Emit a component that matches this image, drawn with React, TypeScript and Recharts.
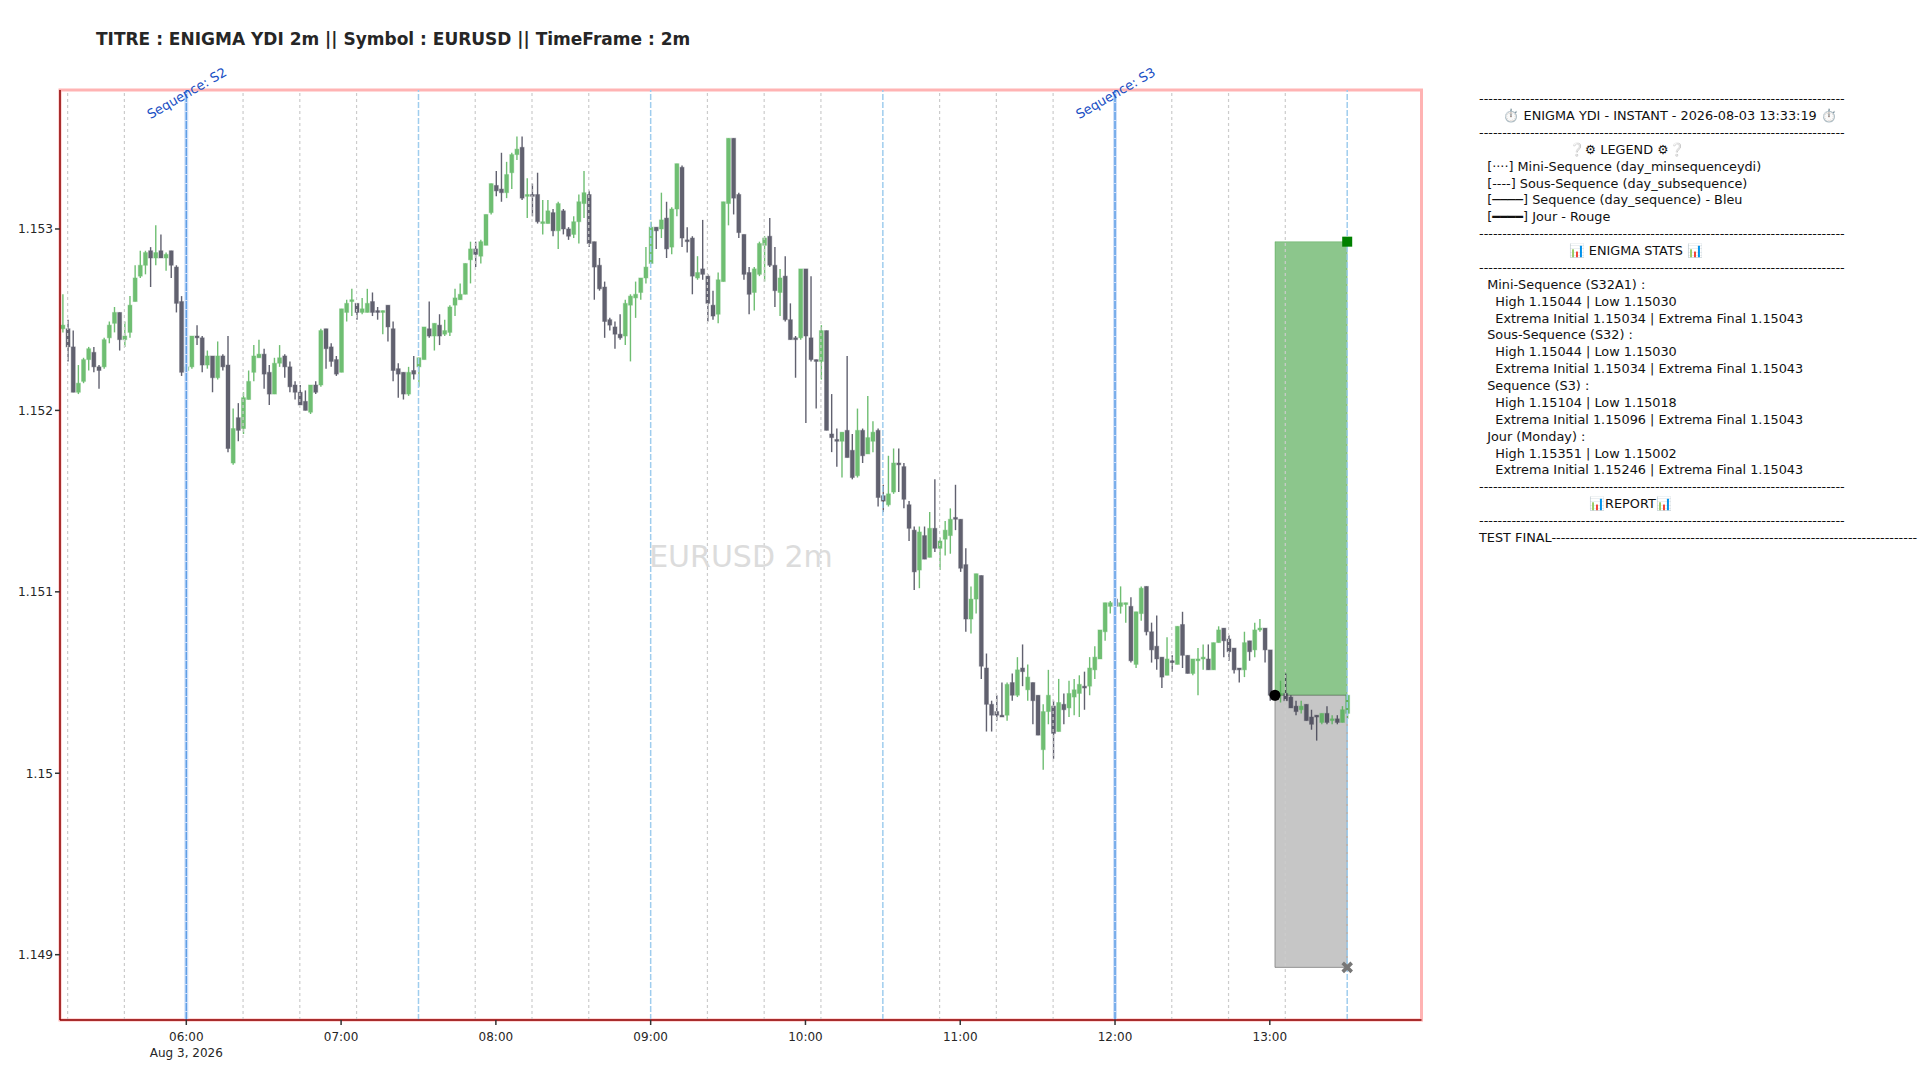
import { ComposedChart, Bar, XAxis, YAxis, ReferenceLine, ReferenceArea, ReferenceDot } from 'recharts'

// 2m candles (first one at 05:12)
const FIRST_MINUTE = 312
const opens = [
  1.15245,1.15245,1.15235,1.15210,1.15216,1.15228,1.15232,1.15224,1.15224,1.15240,1.15248,1.15254,1.15239,1.15243,1.15260,1.15274,1.15280,1.15288,1.15284,1.15288,1.15284,1.15288,1.15279,1.15260,1.15222,
  1.15224,1.15241,1.15240,1.15225,1.15230,1.15218,1.15230,1.15225,1.15171,1.15196,1.15190,1.15206,1.15221,1.15229,1.15231,1.15221,1.15209,1.15226,1.15230,1.15224,1.15214,1.15210,1.15205,1.15199,1.15214,
  1.15214,1.15245,1.15235,1.15228,1.15221,1.15254,1.15260,1.15259,1.15254,1.15254,1.15260,1.15255,1.15254,1.15258,1.15245,1.15223,1.15221,1.15209,1.15222,1.15224,1.15228,1.15245,1.15241,1.15247,1.15242,
  1.15243,1.15258,1.15261,1.15264,1.15283,1.15289,1.15285,1.15291,1.15309,1.15324,1.15322,1.15320,1.15331,1.15341,1.15345,1.15318,1.15319,1.15319,1.15303,1.15303,1.15309,1.15299,1.15310,1.15300,1.15297,
  1.15304,1.15314,1.15319,1.15293,1.15280,1.15268,1.15250,1.15246,1.15242,1.15241,1.15258,1.15262,1.15265,1.15273,1.15281,1.15301,1.15300,1.15306,1.15290,1.15311,1.15334,1.15294,1.15295,1.15273,1.15278,
  1.15274,1.15258,1.15253,1.15271,1.15314,1.15350,1.15319,1.15297,1.15276,1.15265,1.15275,1.15291,1.15296,1.15280,1.15265,1.15274,1.15250,1.15240,1.15240,1.15278,1.15240,1.15228,1.15227,1.15244,1.15187,
  1.15184,1.15183,1.15189,1.15178,1.15164,1.15189,1.15176,1.15183,1.15189,1.15153,1.15148,1.15155,1.15171,1.15169,1.15148,1.15134,1.15112,1.15131,1.15119,1.15135,1.15124,1.15129,1.15131,1.15141,1.15140,
  1.15115,1.15085,1.15096,1.15109,1.15058,1.15038,1.15034,1.15032,1.15032,1.15050,1.15043,1.15058,1.15046,1.15050,1.15043,1.15013,1.15034,1.15037,1.15023,1.15038,1.15036,1.15042,1.15044,1.15048,1.15048,
  1.15057,1.15063,1.15078,1.15092,1.15096,1.15092,1.15093,1.15092,1.15060,1.15088,1.15103,1.15078,1.15070,1.15064,1.15054,1.15062,1.15060,1.15082,1.15065,1.15055,1.15062,1.15063,1.15063,1.15057,1.15072,
  1.15080,1.15074,1.15069,1.15058,1.15057,1.15073,1.15068,1.15079,1.15080,1.15068,1.15044,1.15043,1.15044,1.15042,1.15037,1.15035,1.15038,1.15031,1.15032,1.15028,1.15033,1.15029,1.15030,1.15028,1.15033,
]
const highs = [
  1.15264,1.15250,1.15244,1.15225,1.15229,1.15235,1.15235,1.15225,1.15240,1.15249,1.15257,1.15254,1.15249,1.15263,1.15280,1.15288,1.15288,1.15290,1.15302,1.15297,1.15287,1.15288,1.15280,1.15263,1.15225,
  1.15241,1.15247,1.15241,1.15233,1.15230,1.15238,1.15231,1.15241,1.15201,1.15204,1.15210,1.15222,1.15236,1.15239,1.15234,1.15225,1.15229,1.15236,1.15231,1.15227,1.15216,1.15214,1.15211,1.15214,1.15216,
  1.15245,1.15245,1.15237,1.15230,1.15256,1.15261,1.15267,1.15259,1.15262,1.15267,1.15265,1.15257,1.15255,1.15258,1.15249,1.15226,1.15221,1.15224,1.15230,1.15229,1.15246,1.15260,1.15248,1.15253,1.15250,
  1.15258,1.15267,1.15270,1.15281,1.15293,1.15293,1.15294,1.15308,1.15325,1.15332,1.15342,1.15337,1.15342,1.15351,1.15351,1.15328,1.15325,1.15331,1.15316,1.15316,1.15311,1.15315,1.15311,1.15301,1.15307,
  1.15319,1.15332,1.15321,1.15293,1.15284,1.15271,1.15251,1.15249,1.15253,1.15261,1.15264,1.15271,1.15273,1.15290,1.15304,1.15301,1.15320,1.15315,1.15312,1.15336,1.15335,1.15301,1.15296,1.15285,1.15305,
  1.15275,1.15266,1.15276,1.15315,1.15350,1.15350,1.15320,1.15297,1.15279,1.15279,1.15293,1.15296,1.15306,1.15290,1.15278,1.15285,1.15259,1.15241,1.15278,1.15278,1.15274,1.15228,1.15247,1.15244,1.15209,
  1.15190,1.15188,1.15230,1.15187,1.15201,1.15190,1.15208,1.15194,1.15190,1.15159,1.15175,1.15179,1.15179,1.15171,1.15150,1.15136,1.15136,1.15136,1.15144,1.15162,1.15130,1.15139,1.15146,1.15159,1.15140,
  1.15124,1.15103,1.15110,1.15109,1.15066,1.15040,1.15043,1.15050,1.15050,1.15055,1.15064,1.15071,1.15060,1.15050,1.15043,1.15038,1.15057,1.15040,1.15052,1.15044,1.15051,1.15052,1.15054,1.15056,1.15064,
  1.15070,1.15079,1.15094,1.15095,1.15099,1.15103,1.15094,1.15097,1.15089,1.15103,1.15103,1.15083,1.15087,1.15064,1.15075,1.15065,1.15081,1.15089,1.15065,1.15063,1.15069,1.15071,1.15071,1.15072,1.15081,
  1.15080,1.15076,1.15069,1.15058,1.15078,1.15073,1.15083,1.15085,1.15080,1.15068,1.15045,1.15051,1.15055,1.15043,1.15040,1.15040,1.15038,1.15035,1.15032,1.15033,1.15037,1.15032,1.15032,1.15037,1.15043,
]
const lows = [
  1.15243,1.15227,1.15210,1.15209,1.15215,1.15222,1.15221,1.15212,1.15223,1.15237,1.15243,1.15233,1.15235,1.15240,1.15260,1.15273,1.15275,1.15268,1.15280,1.15284,1.15277,1.15273,1.15254,1.15219,1.15212,
  1.15223,1.15236,1.15221,1.15223,1.15210,1.15217,1.15222,1.15177,1.15170,1.15183,1.15187,1.15206,1.15216,1.15229,1.15212,1.15203,1.15209,1.15224,1.15218,1.15210,1.15206,1.15203,1.15200,1.15198,1.15209,
  1.15213,1.15223,1.15224,1.15219,1.15221,1.15249,1.15252,1.15250,1.15253,1.15254,1.15252,1.15250,1.15242,1.15238,1.15216,1.15207,1.15206,1.15208,1.15217,1.15213,1.15228,1.15240,1.15233,1.15236,1.15241,
  1.15241,1.15252,1.15261,1.15264,1.15270,1.15279,1.15281,1.15291,1.15308,1.15318,1.15315,1.15317,1.15322,1.15338,1.15316,1.15306,1.15307,1.15303,1.15297,1.15303,1.15296,1.15289,1.15297,1.15294,1.15295,
  1.15292,1.15306,1.15290,1.15261,1.15266,1.15240,1.15244,1.15234,1.15239,1.15236,1.15227,1.15251,1.15261,1.15270,1.15281,1.15289,1.15295,1.15284,1.15286,1.15307,1.15290,1.15287,1.15264,1.15272,1.15272,
  1.15249,1.15250,1.15248,1.15271,1.15302,1.15308,1.15295,1.15272,1.15253,1.15255,1.15274,1.15271,1.15279,1.15257,1.15252,1.15249,1.15239,1.15218,1.15239,1.15193,1.15227,1.15201,1.15217,1.15189,1.15177,
  1.15169,1.15163,1.15174,1.15162,1.15163,1.15171,1.15176,1.15177,1.15147,1.15144,1.15147,1.15154,1.15155,1.15146,1.15128,1.15101,1.15102,1.15118,1.15119,1.15122,1.15112,1.15120,1.15121,1.15134,1.15111,
  1.15078,1.15077,1.15088,1.15052,1.15023,1.15023,1.15029,1.15031,1.15029,1.15040,1.15042,1.15048,1.15040,1.15027,1.15021,1.15002,1.15027,1.15008,1.15023,1.15027,1.15031,1.15032,1.15031,1.15035,1.15043,
  1.15052,1.15063,1.15073,1.15088,1.15088,1.15088,1.15083,1.15061,1.15058,1.15084,1.15076,1.15061,1.15057,1.15047,1.15054,1.15056,1.15060,1.15058,1.15055,1.15054,1.15043,1.15057,1.15057,1.15057,1.15072,
  1.15064,1.15062,1.15055,1.15050,1.15053,1.15062,1.15064,1.15078,1.15061,1.15040,1.15040,1.15039,1.15040,1.15036,1.15032,1.15033,1.15029,1.15024,1.15018,1.15027,1.15027,1.15027,1.15027,1.15028,1.15030,
]
const closes = [
  1.15247,1.15235,1.15210,1.15215,1.15228,1.15234,1.15224,1.15222,1.15239,1.15247,1.15254,1.15239,1.15241,1.15258,1.15273,1.15280,1.15287,1.15284,1.15287,1.15284,1.15286,1.15280,1.15259,1.15221,1.15224,
  1.15241,1.15240,1.15225,1.15230,1.15218,1.15230,1.15224,1.15179,1.15190,1.15189,1.15207,1.15216,1.15230,1.15231,1.15220,1.15209,1.15226,1.15229,1.15224,1.15213,1.15210,1.15203,1.15200,1.15214,1.15210,
  1.15244,1.15234,1.15227,1.15220,1.15256,1.15259,1.15261,1.15254,1.15256,1.15259,1.15254,1.15254,1.15255,1.15246,1.15222,1.15220,1.15209,1.15221,1.15220,1.15229,1.15246,1.15241,1.15248,1.15241,1.15244,
  1.15257,1.15262,1.15264,1.15281,1.15289,1.15286,1.15293,1.15308,1.15325,1.15321,1.15320,1.15330,1.15341,1.15344,1.15317,1.15319,1.15318,1.15304,1.15304,1.15310,1.15299,1.15314,1.15300,1.15296,1.15304,
  1.15315,1.15320,1.15292,1.15279,1.15267,1.15249,1.15247,1.15242,1.15240,1.15259,1.15263,1.15264,1.15273,1.15279,1.15301,1.15299,1.15305,1.15289,1.15311,1.15336,1.15295,1.15293,1.15274,1.15276,1.15275,
  1.15259,1.15252,1.15272,1.15315,1.15350,1.15317,1.15298,1.15275,1.15264,1.15278,1.15292,1.15295,1.15280,1.15266,1.15273,1.15250,1.15239,1.15239,1.15278,1.15241,1.15228,1.15227,1.15244,1.15189,1.15185,
  1.15183,1.15188,1.15174,1.15163,1.15189,1.15175,1.15185,1.15188,1.15152,1.15150,1.15154,1.15171,1.15170,1.15151,1.15135,1.15111,1.15133,1.15118,1.15135,1.15124,1.15128,1.15134,1.15140,1.15140,1.15113,
  1.15085,1.15096,1.15110,1.15059,1.15038,1.15032,1.15032,1.15031,1.15049,1.15043,1.15057,1.15056,1.15053,1.15040,1.15021,1.15034,1.15043,1.15022,1.15039,1.15035,1.15044,1.15046,1.15049,1.15047,1.15058,
  1.15064,1.15079,1.15094,1.15094,1.15092,1.15094,1.15094,1.15062,1.15089,1.15102,1.15078,1.15068,1.15063,1.15053,1.15063,1.15061,1.15081,1.15065,1.15055,1.15063,1.15063,1.15064,1.15057,1.15072,1.15079,
  1.15073,1.15067,1.15057,1.15057,1.15072,1.15067,1.15079,1.15080,1.15068,1.15043,1.15042,1.15044,1.15040,1.15036,1.15034,1.15037,1.15029,1.15027,1.15031,1.15033,1.15028,1.15030,1.15028,1.15035,1.15043,
]

const hourTicks = [360, 420, 480, 540, 600, 660, 720, 780]
const priceTicks = [1.149, 1.15, 1.151, 1.152, 1.153]
const miniSequences = [314, 336, 382, 404, 426, 472, 494, 516, 562, 584, 606, 652, 674, 696, 742, 764, 786]
const sousSequences = [450, 540, 630, 810]
const sequences = [
  { minute: 360, name: 'Sequence: S2' },
  { minute: 720, name: 'Sequence: S3' },
]
// last trade box: entry, target, stop
const BOX_START = 782
const BOX_END = 810
const ENTRY = 1.15043
const TARGET = 1.15293
const STOP = 1.14893

const candles = opens.map((open, i) => ({
  minute: FIRST_MINUTE + i * 2,
  open,
  high: highs[i],
  low: lows[i],
  close: closes[i],
}))

const RULE = '-'.repeat(79)
const statsBlock = [
  RULE,
  '      \u23F1\uFE0F ENIGMA YDI - INSTANT - 2026-08-03 13:33:19 \u23F1\uFE0F',
  RULE,
  '                      \u2754\u2699 LEGEND \u2699\u2754',
  '  [\u00B7\u00B7\u00B7\u00B7] Mini-Sequence (day_minsequenceydi)',
  '  [----] Sous-Sequence (day_subsequence)',
  '  [\u2500\u2500\u2500\u2500] Sequence (day_sequence) - Bleu',
  '  [\u2501\u2501\u2501\u2501] Jour - Rouge',
  RULE,
  '                      \uD83D\uDCCA ENIGMA STATS \uD83D\uDCCA',
  RULE,
  '  Mini-Sequence (S32A1) :',
  '    High 1.15044 | Low 1.15030',
  '    Extrema Initial 1.15034 | Extrema Final 1.15043',
  '  Sous-Sequence (S32) :',
  '    High 1.15044 | Low 1.15030',
  '    Extrema Initial 1.15034 | Extrema Final 1.15043',
  '  Sequence (S3) :',
  '    High 1.15104 | Low 1.15018',
  '    Extrema Initial 1.15096 | Extrema Final 1.15043',
  '  Jour (Monday) :',
  '    High 1.15351 | Low 1.15002',
  '    Extrema Initial 1.15246 | Extrema Final 1.15043',
  RULE,
  '                           \uD83D\uDCCAREPORT\uD83D\uDCCA',
  RULE,
  'TEST FINAL' + RULE,
]

const FONT = '"DejaVu Sans", sans-serif'
const UP = '#4caf50'
const DOWN = '#3a3a4c'

function Candle({ x, y, width, height, payload }: any) {
  const { open, close, high, low } = payload
  const k = height / (high - low)
  const top = y + (high - Math.max(open, close)) * k
  const bottom = y + (high - Math.min(open, close)) * k
  const color = close >= open ? UP : DOWN
  const cx = x + width / 2
  return (
    <g opacity={0.8}>
      <line x1={cx} x2={cx} y1={y} y2={y + height} stroke={color} strokeWidth={1.4} />
      <rect x={x} y={top} width={width} height={Math.max(bottom - top, 1)} fill={color} stroke={color} strokeOpacity={0.4} strokeWidth={1} />
    </g>
  )
}

function TimeTick({ x, y, payload }: any) {
  const h = Math.floor(payload.value / 60)
  return (
    <g>
      <text x={x} y={y + 14} textAnchor="middle" fontSize={12} fontFamily={FONT} fill="#262626">
        {`${String(h).padStart(2, '0')}:00`}
      </text>
      {payload.value === 360 && (
        <text x={x} y={y + 30} textAnchor="middle" fontSize={12} fontFamily={FONT} fill="#262626">
          Aug 3, 2026
        </text>
      )}
    </g>
  )
}

function SequenceLabel({ viewBox, value }: any) {
  const cx = viewBox.x + 1
  const cy = viewBox.y + 4
  return (
    <text x={cx} y={cy} textAnchor="middle" dominantBaseline="middle" fontSize={13} fontFamily={FONT} fill="#1a4fc4" transform={`rotate(-30 ${cx} ${cy})`}>
      {value}
    </text>
  )
}

export default function App() {
  return (
    <div style={{ position: 'absolute', left: 0, top: 0, width: 1920, height: 1080, background: '#fff', overflow: 'hidden' }}>
      <div style={{ position: 'absolute', left: 96, top: 29, fontFamily: FONT, fontSize: 17, fontWeight: 700, color: '#262626', whiteSpace: 'pre' }}>
        TITRE : ENIGMA YDI 2m || Symbol : EURUSD || TimeFrame : 2m
      </div>

      <ComposedChart width={1920} height={1080} data={candles} margin={{ top: 90, right: 498.5, bottom: 0, left: 0 }}>
        <XAxis
          dataKey="minute"
          type="number"
          domain={[311.04, 838.8]}
          ticks={hourTicks}
          allowDataOverflow
          height={60}
          stroke="#8b0000"
          strokeWidth={1.5}
          tickLine={{ stroke: '#333' }}
          tickSize={5}
          tick={<TimeTick />}
          interval={0}
        />
        <YAxis
          type="number"
          domain={[1.14864, 1.153766]}
          ticks={priceTicks}
          allowDataOverflow
          width={60}
          stroke="#8b0000"
          strokeWidth={1.5}
          tickLine={{ stroke: '#333' }}
          tickSize={5}
          interval={0}
          tick={{ fontSize: 12.2, fontFamily: FONT, fill: '#262626' }}
          tickFormatter={(v: number) => String(v)}
        />
        <ReferenceArea x1={311.04} x2={838.8} y1={1.14864} y2={1.153766} fill="none" stroke="#ffb3b3" strokeWidth={3} ifOverflow="visible" />

        <Bar dataKey={(d: any) => [d.low, d.high]} barSize={4} shape={<Candle />} isAnimationActive={false} />

        {miniSequences.map((m) => (
          <ReferenceLine key={m} x={m} stroke="#cccccc" strokeWidth={1.2} strokeDasharray="3 3" />
        ))}
        {sousSequences.map((m) => (
          <ReferenceLine key={m} x={m} stroke="#9fcdee" strokeWidth={1.5} strokeDasharray="6 2" />
        ))}
        {sequences.map((s) => (
          <ReferenceLine key={s.minute} x={s.minute} stroke="#cfe0fa" strokeWidth={4} />
        ))}
        {sequences.map((s) => (
          <ReferenceLine
            key={s.name}
            x={s.minute}
            stroke="#5f9fe6"
            strokeWidth={1.5}
            strokeDasharray="8 1"
            label={<SequenceLabel value={s.name} />}
          />
        ))}

        <ReferenceArea x1={BOX_START} x2={BOX_END} y1={ENTRY} y2={TARGET} fill="#008000" fillOpacity={0.45} stroke="#008000" strokeOpacity={0.25} />
        <ReferenceArea x1={BOX_START} x2={BOX_END} y1={STOP} y2={ENTRY} fill="#808080" fillOpacity={0.45} stroke="#666666" strokeOpacity={0.6} />
        <ReferenceDot x={BOX_START} y={ENTRY} r={5.5} fill="#000" stroke="none" />
        <ReferenceDot
          x={BOX_END}
          y={TARGET}
          shape={(p: any) => <rect x={p.cx - 5} y={p.cy - 5} width={10} height={10} fill="#008000" />}
        />
        <ReferenceDot
          x={BOX_END}
          y={STOP}
          shape={(p: any) => (
            <path d={`M${p.cx - 4.5} ${p.cy - 4.5}L${p.cx + 4.5} ${p.cy + 4.5}M${p.cx - 4.5} ${p.cy + 4.5}L${p.cx + 4.5} ${p.cy - 4.5}`} stroke="#777" strokeWidth={3.6} />
          )}
        />
      </ComposedChart>

      <div style={{ position: 'absolute', left: 741, top: 556, transform: 'translate(-50%, -50%)', fontFamily: FONT, fontSize: 30, color: '#dcdcdc', whiteSpace: 'pre' }}>
        EURUSD 2m
      </div>

      <div style={{ position: 'absolute', left: 1479, top: 91.2, fontFamily: FONT, fontSize: 12.83, lineHeight: '16.87px', color: '#111', whiteSpace: 'pre' }}>
        {statsBlock.join('\n')}
      </div>
    </div>
  )
}
